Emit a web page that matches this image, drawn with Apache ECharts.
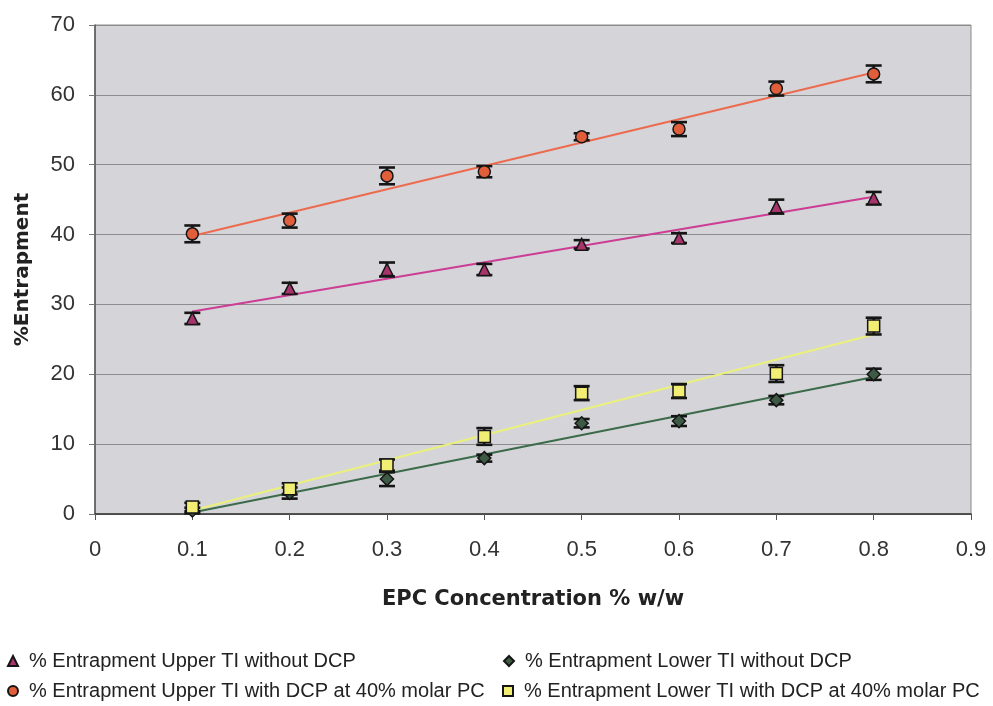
<!DOCTYPE html>
<html>
<head>
<meta charset="utf-8">
<script src="https://cdn.jsdelivr.net/npm/echarts@6/dist/echarts.min.js"></script>
<style>
  html, body { margin: 0; padding: 0; background: #ffffff; }
  #chart { width: 993px; height: 706px; }
</style>
</head>
<body>
<div id="chart"></div>
<script>
// EPC concentration (% w/w)
const epc = [0.1, 0.2, 0.3, 0.4, 0.5, 0.6, 0.7, 0.8];

// % entrapment per formulation, with ± error
const upperNoDcp = [28.0, 32.3, 35.0, 35.0, 38.6, 39.5, 44.0, 45.2];
const upperNoDcpErr = [0.8, 0.8, 1.0, 0.8, 0.6, 0.7, 1.0, 0.9];
const lowerNoDcp = [0.5, 3.0, 5.0, 8.0, 13.0, 13.3, 16.3, 20.0];
const lowerNoDcpErr = [0.4, 0.8, 1.0, 0.5, 0.6, 0.7, 0.6, 0.8];
const upperDcp = [40.1, 42.0, 48.4, 49.0, 54.0, 55.1, 60.9, 63.0];
const upperDcpErr = [1.2, 1.0, 1.2, 0.8, 0.5, 1.0, 1.0, 1.2];
const lowerDcp = [1.0, 3.6, 7.0, 11.1, 17.3, 17.6, 20.1, 26.9];
const lowerDcpErr = [0.6, 0.8, 0.8, 1.2, 1.0, 1.0, 1.2, 1.2];

// linear trend line end values at x = 0.1 and x = 0.8
const trendX = [0.1, 0.8];
const upperNoDcpTrend = [29.0, 45.4];
const lowerNoDcpTrend = [0.2, 19.6];
const upperDcpTrend = [39.8, 63.2];
const lowerDcpTrend = [0.5, 25.7];

const names = [
  '% Entrapment Upper TI without DCP',
  '% Entrapment Lower TI without DCP',
  '% Entrapment Upper TI with DCP at 40% molar PC',
  '% Entrapment Lower TI with DCP at 40% molar PC'
];

const xTicks = [0, 0.1, 0.2, 0.3, 0.4, 0.5, 0.6, 0.7, 0.8, 0.9];
const yTicks = [0, 10, 20, 30, 40, 50, 60, 70];

const pairs = (xs, ys) => xs.map((x, i) => [x, ys[i]]);
const triples = (xs, ys, es) => xs.map((x, i) => [x, ys[i], es[i]]);

function errorBars(data) {
  return {
    type: 'custom',
    z: 4,
    silent: true,
    data: data,
    renderItem: function (params, api) {
      const x = api.value(0), y = api.value(1), e = api.value(2);
      const hi = api.coord([x, y + e]);
      const lo = api.coord([x, y - e]);
      const hw = 8;
      const st = { stroke: '#151515', lineWidth: 2.6 };
      return {
        type: 'group',
        children: [
          { type: 'line', shape: { x1: hi[0], y1: hi[1], x2: lo[0], y2: lo[1] }, style: st },
          { type: 'line', shape: { x1: hi[0] - hw, y1: hi[1], x2: hi[0] + hw, y2: hi[1] }, style: st },
          { type: 'line', shape: { x1: lo[0] - hw, y1: lo[1], x2: lo[0] + hw, y2: lo[1] }, style: st }
        ]
      };
    }
  };
}

function trend(ys, color) {
  return {
    type: 'line',
    data: pairs(trendX, ys),
    symbol: 'none',
    silent: true,
    z: 3,
    lineStyle: { color: color, width: 2 }
  };
}

function markers(name, ys, symbol, color, size) {
  return {
    name: name,
    type: 'scatter',
    data: pairs(epc, ys),
    symbol: symbol,
    symbolSize: size,
    z: 5,
    itemStyle: { color: color, borderColor: '#151515', borderWidth: 1.5, opacity: 1 }
  };
}

const legendFont = {
  fontSize: 20, color: '#222222', padding: [0, 0, 0, 6],
  fontFamily: 'Liberation Sans, Arial, sans-serif'
};
function legendAt(name, left, top) {
  return {
    data: [name], left: left, top: top, orient: 'horizontal', padding: 0,
    itemWidth: 10, itemHeight: 10, itemGap: 6,
    textStyle: legendFont, selectedMode: false
  };
}

const chart = echarts.init(document.getElementById('chart'), null, { renderer: 'canvas' });
chart.setOption({
  animation: false,
  backgroundColor: '#ffffff',
  grid: {
    left: 95, right: 22, top: 25, bottom: 192,
    outerBoundsMode: 'none',
    show: true, backgroundColor: '#d5d5d9', borderColor: '#8a8a8a', borderWidth: 1
  },
  legend: [
    legendAt(names[0], 7, 651),
    legendAt(names[1], 503, 651),
    legendAt(names[2], 7, 681),
    legendAt(names[3], 502, 681)
  ],
  xAxis: {
    type: 'value',
    min: xTicks[0], max: xTicks[xTicks.length - 1], interval: 0.1,
    name: 'EPC Concentration % w/w',
    nameLocation: 'middle', nameGap: 75,
    nameTextStyle: { fontSize: 21, fontWeight: 'bold', color: '#222222', fontFamily: 'DejaVu Sans, sans-serif' },
    axisLine: { show: true, onZero: false, lineStyle: { color: '#333333', width: 1.5 } },
    axisTick: { show: true, length: 6, lineStyle: { color: '#555555' } },
    axisLabel: {
      fontSize: 22, color: '#333333', margin: 25,
      fontFamily: 'Liberation Sans, Arial, sans-serif',
      formatter: v => String(Math.round(v * 10) / 10)
    },
    splitLine: { show: false }
  },
  yAxis: {
    type: 'value',
    min: yTicks[0], max: yTicks[yTicks.length - 1], interval: 10,
    name: '%Entrapment',
    nameLocation: 'middle', nameGap: 62, nameRotate: 90,
    nameTextStyle: { fontSize: 20, fontWeight: 'bold', color: '#222222', fontFamily: 'DejaVu Sans, sans-serif' },
    axisLine: { show: true, lineStyle: { color: '#555555', width: 1.5 } },
    axisTick: { show: true, length: 6, lineStyle: { color: '#777777' } },
    axisLabel: { fontSize: 22, color: '#333333', margin: 20, fontFamily: 'Liberation Sans, Arial, sans-serif' },
    splitLine: { show: true, lineStyle: { color: '#8c8c8c', width: 1 } }
  },
  series: [
    trend(upperDcpTrend, '#ec6b4f'),
    trend(upperNoDcpTrend, '#cc3d94'),
    trend(lowerDcpTrend, '#eaf07a'),
    trend(lowerNoDcpTrend, '#3b6b4a'),
    errorBars(triples(epc, upperDcp, upperDcpErr)),
    errorBars(triples(epc, upperNoDcp, upperNoDcpErr)),
    errorBars(triples(epc, lowerDcp, lowerDcpErr)),
    errorBars(triples(epc, lowerNoDcp, lowerNoDcpErr)),
    markers(names[0], upperNoDcp, 'triangle', '#a8346c', 12),
    markers(names[1], lowerNoDcp, 'diamond', '#3d5a44', 13),
    markers(names[2], upperDcp, 'circle', '#e05e3a', 12),
    markers(names[3], lowerDcp, 'rect', '#f2ee74', 12)
  ]
});
</script>
</body>
</html>
